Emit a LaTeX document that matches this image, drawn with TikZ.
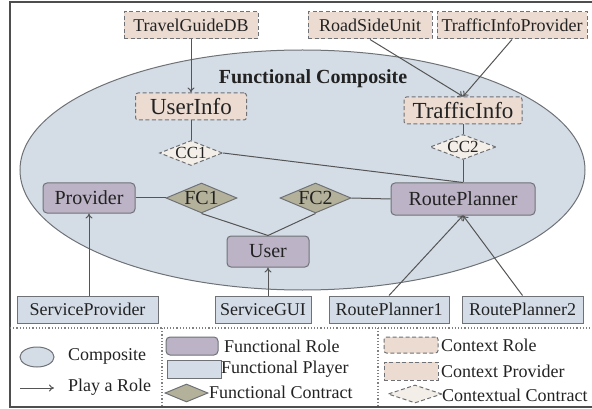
\documentclass[tikz,border=0pt]{standalone}
\usepackage{fontspec}
\setmainfont{Liberation Serif}
\usetikzlibrary{shapes.geometric,arrows.meta}

\definecolor{compfill}{HTML}{D4DDE6}
\definecolor{compline}{HTML}{6E7276}
\definecolor{rolefill}{HTML}{BCB4C6}
\definecolor{playerfill}{HTML}{D4DDE7}
\definecolor{ctxfill}{HTML}{EBDBD1}
\definecolor{fcfill}{HTML}{B4B19B}
\definecolor{ccfill}{HTML}{F3EEE7}
\definecolor{edge}{HTML}{555555}
\definecolor{ink}{HTML}{222222}

\tikzset{
  every node/.style={text=ink, inner sep=0pt},
  txt/.style={font=\fontsize{18}{20}\selectfont},
  big/.style={font=\fontsize{23}{25}\selectfont},
  mid/.style={font=\fontsize{20}{22}\selectfont},
  ctxprov/.style={rectangle, draw=compline, fill=ctxfill, line width=1pt,
                  dash pattern=on 4pt off 2.5pt},
  ctxrole/.style={ctxprov, rounded corners=2.5pt},
  frole/.style={rectangle, rounded corners=4pt, draw=compline, fill=rolefill, line width=1pt},
  fplayer/.style={rectangle, draw=compline, fill=playerfill, line width=1pt},
  fcontract/.style={diamond, draw=compline, fill=fcfill, line width=1pt},
  ccontract/.style={diamond, draw=compline, fill=ccfill, line width=1pt,
                    dash pattern=on 4pt off 2.5pt},
  link/.style={draw=edge, line width=1pt},
  plays/.style={link, -{To[length=5pt,width=7pt]}},
  sepline/.style={draw=gray, line width=1.2pt, dotted},
}

\begin{document}
\begin{tikzpicture}[x=1pt, y=-1pt]
\useasboundingbox (0,0) rectangle (592,409);

% outer frame
\draw[draw=ink!80, line width=1.2pt] (592,2) -- (10,2) -- (10,407) -- (592,407);

% composite
\node[ellipse, draw=compline, fill=compfill, line width=1pt,
      minimum width=565pt, minimum height=240pt] (comp) at (302.5,170) {};
\node[font=\bfseries\fontsize{20}{22}\selectfont] (comptitle) at (313,79) {Functional Composite};

% context providers
\node[ctxprov, txt, minimum width=134pt, minimum height=27pt] (tgdb) at (191,25.5) {TravelGuideDB};
\node[ctxprov, txt, minimum width=124pt, minimum height=27pt] (rsu) at (370,25.5) {RoadSideUnit};
\node[ctxprov, txt, minimum width=150pt, minimum height=27pt] (tip) at (512,25.5) {TrafficInfoProvider};

% context roles
\node[ctxrole, big, minimum width=111pt, minimum height=27pt] (uinfo) at (191,106.5) {UserInfo};
\node[ctxrole, big, minimum width=118pt, minimum height=27pt] (tinfo) at (463,110.5) {TrafficInfo};

% contextual contracts
\node[ccontract, minimum width=63pt, minimum height=25pt,
      label={[txt, font=\fontsize{17}{19}\selectfont]center:CC1}] (cc1) at (191,153) {};
\node[ccontract, minimum width=66pt, minimum height=25pt,
      label={[txt, font=\fontsize{17}{19}\selectfont]center:CC2}] (cc2) at (463,147) {};

% functional roles
\node[frole, mid, minimum width=92pt, minimum height=30pt] (prov) at (89,198) {Provider};
\node[frole, mid, minimum width=144pt, minimum height=32pt] (rp) at (463,199) {RoutePlanner};
\node[frole, mid, minimum width=82pt, minimum height=31pt] (user) at (268,251.5) {User};

% functional contracts
\node[fcontract, minimum width=71pt, minimum height=30pt,
      label={[mid]center:FC1}] (fc1) at (201.5,198) {};
\node[fcontract, minimum width=71pt, minimum height=30pt,
      label={[mid]center:FC2}] (fc2) at (315.5,198) {};

% functional players
\node[fplayer, txt, minimum width=141pt, minimum height=27pt] (sp) at (87.5,309.5) {ServiceProvider};
\node[fplayer, txt, minimum width=96pt, minimum height=27pt] (sgui) at (263,309.5) {ServiceGUI};
\node[fplayer, txt, minimum width=120pt, minimum height=27pt] (rp1) at (389,309.5) {RoutePlanner1};
\node[fplayer, txt, minimum width=121pt, minimum height=27pt] (rp2) at (522.5,309.5) {RoutePlanner2};

% contract links
\draw[link] (uinfo.south) -- (cc1.north);
\draw[link] (cc1.east) -- (rp.north);
\draw[link] (tinfo.south) -- (cc2.north);
\draw[link] (cc2.south) -- (rp.north);
\draw[link] (prov.east) -- (fc1.west);
\draw[link] (fc2.east) -- (rp.west);
\draw[link] (fc1.south) -- (user.north);
\draw[link] (fc2.south) -- (user.north);

% play-a-role links
\draw[plays] (tgdb.south) -- (uinfo.north);
\draw[plays] (rsu.south) -- (tinfo.north);
\draw[plays] (tip.south) -- (tinfo.north);
\draw[plays] (sp.north -| prov.south) -- (prov.south);
\draw[plays] (sgui.north -| user.south) -- (user.south);
\draw[plays] (rp1.north) -- (rp.south);
\draw[plays] (rp2.north) -- (rp.south);

% legend separators
\coordinate (sepL) at (10,328);
\coordinate (sepR) at (592,328);
\draw[sepline] (sepL) -- (sepR);
\coordinate (v1t) at (162,328);
\coordinate (v1b) at (162,407);
\coordinate (v2t) at (378,328);
\coordinate (v2b) at (378,407);
\draw[sepline] (v1t) -- (v1b);
\draw[sepline] (v2t) -- (v2b);

% legend, first column
\node[ellipse, draw=compline, fill=compfill, line width=1pt,
      minimum width=34pt, minimum height=20pt] (lgcomp) at (37,357) {};
\node[txt, anchor=west] (lgcomptxt) at (68,356) {Composite};
\coordinate (lgarrA) at (20,388);
\coordinate (lgarrB) at (54,388);
\draw[plays] (lgarrA) -- (lgarrB);
\node[txt, anchor=west] (lgplaytxt) at (68,387) {Play a Role};

% legend, second column
\node[frole, minimum width=52pt, minimum height=18pt] (lgrole) at (192,346) {};
\node[txt, anchor=west] (lgroletxt) at (224,346) {Functional Role};
\node[fplayer, minimum width=54pt, minimum height=18pt] (lgplayer) at (194,369) {};
\node[txt, anchor=west] (lgplayertxt) at (221,369) {Functional Player};
\node[fcontract, minimum width=43pt, minimum height=18pt] (lgfc) at (186.5,393) {};
\node[txt, anchor=west] (lgfctxt) at (209,392) {Functional Contract};

% legend, third column
\node[ctxrole, minimum width=54pt, minimum height=16pt] (lgcr) at (411,345) {};
\node[txt, anchor=west] (lgcrtxt) at (441,345) {Context Role};
\node[ctxprov, minimum width=54pt, minimum height=18pt] (lgcp) at (411,371) {};
\node[txt, anchor=west] (lgcptxt) at (441,371) {Context Provider};
\node[ccontract, minimum width=54pt, minimum height=18pt] (lgcc) at (415,394) {};
\node[txt, anchor=west] (lgcctxt) at (442,395) {Contextual Contract};
\end{tikzpicture}
\end{document}
